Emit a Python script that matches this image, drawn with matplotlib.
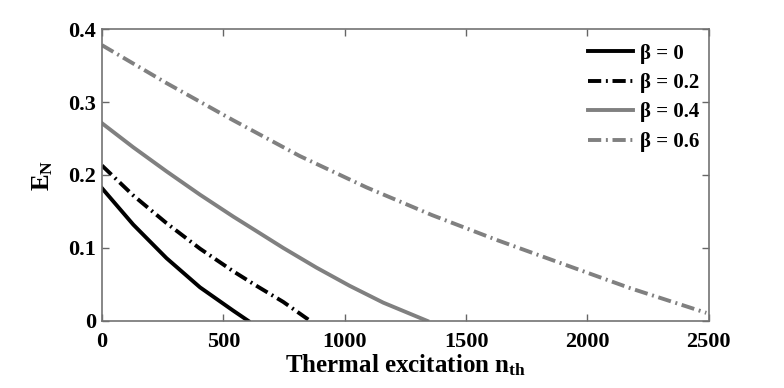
import matplotlib
matplotlib.use('Agg')
import matplotlib.pyplot as plt
import numpy as np

# 数据点 (n_th, E_N)
nth_b0 = [0, 129, 266, 404, 541, 603]
en_b0 = [0.182, 0.132, 0.086, 0.046, 0.014, 0.0]

nth_b02 = [0, 129, 266, 404, 541, 637, 747, 858]
en_b02 = [0.213, 0.172, 0.134, 0.099, 0.068, 0.048, 0.026, 0.0]

nth_b04 = [0, 129, 266, 404, 541, 637, 747, 884, 1021, 1159, 1340]
en_b04 = [0.271, 0.238, 0.205, 0.173, 0.143, 0.123, 0.100, 0.073, 0.048, 0.025, 0.0]

nth_b06 = [0, 266, 541, 815, 1090, 1360, 1626, 1900, 2175, 2490]
en_b06 = [0.378, 0.326, 0.275, 0.226, 0.183, 0.145, 0.111, 0.078, 0.045, 0.011]

labels = ['β = 0', 'β = 0.2', 'β = 0.4', 'β = 0.6']

plt.rcParams['font.family'] = ['Liberation Serif', 'DejaVu Serif']
plt.rcParams['font.weight'] = 'bold'
plt.rcParams['mathtext.fontset'] = 'custom'
plt.rcParams['mathtext.rm'] = 'Liberation Serif:bold'
plt.rcParams['mathtext.bf'] = 'Liberation Serif:bold'
plt.rcParams['mathtext.it'] = 'Liberation Serif:bold'

fig = plt.figure(figsize=(7.84, 3.88), dpi=100)
ax = fig.add_axes([0.130, 0.173, 0.774, 0.752])

dashdot = (0, (3.4, 1.2, 0.5, 1.2))
ax.plot(nth_b0, en_b0, color='black', lw=2.8, ls='-', label=labels[0])
ax.plot(nth_b02, en_b02, color='black', lw=2.8, ls=dashdot, dash_capstyle='butt', label=labels[1])
ax.plot(nth_b04, en_b04, color='#808080', lw=2.8, ls='-', label=labels[2])
ax.plot(nth_b06, en_b06, color='#808080', lw=2.8, ls=dashdot, dash_capstyle='butt', label=labels[3])

ax.set_xlim(0, 2500)
ax.set_ylim(0, 0.4)
ax.set_xticks([0, 500, 1000, 1500, 2000, 2500])
ax.set_yticks([0, 0.1, 0.2, 0.3, 0.4])
ax.set_yticklabels(['0', '0.1', '0.2', '0.3', '0.4'])
ax.tick_params(direction='in', length=5, width=1, color='0.4', top=True, right=True,
               labelsize=16)
ax.tick_params(axis='x', pad=8)
ax.tick_params(axis='y', pad=4)
for sp in ax.spines.values():
    sp.set_color('0.45')
    sp.set_linewidth(1.2)

ax.set_xlabel(r'Thermal excitation n$_{\mathrm{th}}$', fontsize=18, fontweight='bold', labelpad=0)
ax.set_ylabel(r'E$_{\mathrm{N}}$', fontsize=18, fontweight='bold', labelpad=10)

ax.legend(loc='upper right', bbox_to_anchor=(1.008, 1.0), frameon=False, fontsize=15,
          handlelength=2.2, handletextpad=0.3, labelspacing=0.45, borderaxespad=0.3)

fig.savefig('out.png', dpi=100)
